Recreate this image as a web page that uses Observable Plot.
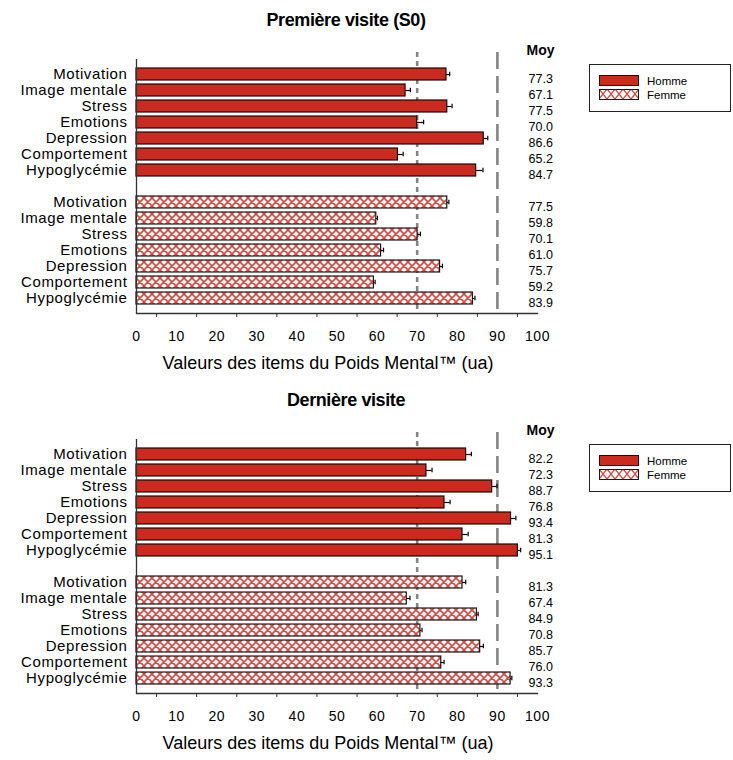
<!DOCTYPE html>
<html>
<head>
<meta charset="utf-8">
<script src="https://cdn.jsdelivr.net/npm/d3@7"></script>
<script src="https://cdn.jsdelivr.net/npm/@observablehq/plot@0.6"></script>
<style>
  body { margin: 0; background: #fff; }
  #wrap { position: relative; width: 733px; height: 760px; overflow: hidden; font-family: "Liberation Sans", Arial, sans-serif; color: #000; }
  .title { position: absolute; left: 0; width: 692px; text-align: center; font-weight: bold; font-size: 18px; letter-spacing: -0.4px; line-height: 21px; }
  .chart { position: absolute; left: 0; }
  .chart g[aria-label="y-axis tick label"] text { letter-spacing: 0.6px; }
  .chart g[aria-label="x-axis tick label"] text { letter-spacing: 0.5px; }
  .chart g[aria-label="means"] text { letter-spacing: 0.9px; }
  .chart g[aria-label="xtitle"] text { letter-spacing: 1.0px; }
  .chart g[aria-label="moy"] text { letter-spacing: -0.7px; }
  .legend { position: absolute; left: 589px; width: 142px; height: 48px; border: 1px solid #222; box-sizing: border-box; background: #fff; }
  .legend .row { position: absolute; left: 9px; height: 11px; display: flex; align-items: center; font-size: 11.5px; }
  .legend svg { margin-right: 8px; }
</style>
</head>
<body>
<div id="wrap"></div>
<script>
// ---- Data ----
const categories = ["Motivation", "Image mentale", "Stress", "Emotions", "Depression", "Comportement", "Hypoglycémie"];
const sexes = ["Homme", "Femme"];

const s0Homme    = [77.3, 67.1, 77.5, 70.0, 86.6, 65.2, 84.7];
const s0HommeErr = [0.8, 1.2, 1.2, 1.6, 1.0, 1.3, 1.7];
const s0Femme    = [77.5, 59.8, 70.1, 61.0, 75.7, 59.2, 83.9];
const s0FemmeErr = [0.4, 0.3, 0.7, 0.6, 0.6, 0.3, 0.5];

const lastHomme    = [82.2, 72.3, 88.7, 76.8, 93.4, 81.3, 95.1];
const lastHommeErr = [1.3, 1.4, 1.2, 1.4, 1.2, 1.4, 0.7];
const lastFemme    = [81.3, 67.4, 84.9, 70.8, 85.7, 76.0, 93.3];
const lastFemmeErr = [0.8, 0.8, 0.3, 0.4, 0.8, 0.7, 0.3];

const xLabelTicks = [0, 10, 20, 30, 40, 50, 60, 70, 80, 90, 100];
const xMarkTicks = [5, 15, 25, 35, 45, 55, 65, 75, 85, 95];
const refShort = [70];
const refLong = [90];
const xTitle = "Valeurs des items du Poids Mental™ (ua)";
const titles = ["Première visite (S0)", "Dernière visite"];

const RED = "#cc2a1e";
const HATCH = "#d9483e";

const keysH = categories.map(c => "H|" + c);
const keysF = categories.map(c => "F|" + c);
const keys = [...keysH, "gap", ...keysF];

function panel(homme, hommeErr, femme, femmeErr, patId) {
  const dataH = categories.map((c, i) => ({key: "H|" + c, mean: homme[i], err: hommeErr[i]}));
  const dataF = categories.map((c, i) => ({key: "F|" + c, mean: femme[i], err: femmeErr[i]}));
  const all = dataH.concat(dataF);
  const defs = () => {
    const d = d3.create("svg:defs");
    const p = d.append("pattern").attr("id", patId).attr("patternUnits", "userSpaceOnUse")
      .attr("width", 8).attr("height", 8);
    p.append("rect").attr("width", 8).attr("height", 8).attr("fill", "#fff");
    p.append("path").attr("d", "M0,0L8,8M8,0L0,8M-1,7L1,9M7,-1L9,1")
      .attr("stroke", HATCH).attr("stroke-width", 1.6).attr("fill", "none");
    return d.node();
  };
  return Plot.plot({
    width: 733,
    height: 350,
    marginTop: 22,
    marginBottom: 67,
    marginLeft: 136,
    marginRight: 196,
    style: {fontFamily: "'Liberation Sans', Arial, sans-serif", color: "#000", background: "transparent"},
    x: {domain: [0, 100]},
    y: {type: "band", domain: keys, paddingInner: 0.24, paddingOuter: 0.12, insetTop: 11.3, insetBottom: 4.3},
    marks: [
      defs,
      Plot.ruleX(refShort, {stroke: "#858585", strokeWidth: 2.6, strokeDasharray: "5,4"}),
      Plot.ruleX(refLong, {stroke: "#858585", strokeWidth: 2.6, strokeDasharray: "17,7"}),
      Plot.barX(dataH, {y: "key", x: "mean", fill: RED, stroke: "#1a0a08", strokeWidth: 1.2}),
      Plot.barX(dataF, {y: "key", x: "mean", fill: `url(#${patId})`, stroke: "#1a1a1a", strokeWidth: 1.2}),
      Plot.ruleY(all, {y: "key", x1: "mean", x2: d => d.mean + d.err, stroke: "#000", strokeWidth: 1.2}),
      Plot.tickX(all, {y: "key", x: d => d.mean + d.err, stroke: "#000", strokeWidth: 1.2, insetTop: 3.7, insetBottom: 3.7}),
      Plot.ruleX([0], {stroke: "#333", strokeWidth: 1.3, insetTop: 7}),
      Plot.frame({anchor: "bottom", stroke: "#333", strokeWidth: 1.3}),
      Plot.axisX({ticks: xMarkTicks, tickSize: 4, tickFormat: () => "", stroke: "#333", label: null}),
      Plot.axisX({ticks: xLabelTicks, tickSize: 0, tickPadding: 18, fontSize: 14, tickFormat: d => String(d), label: null}),
      Plot.axisY({ticks: [...keysH, ...keysF], tickSize: 0, tickPadding: 9, fontSize: 15,
                  tickFormat: d => d.split("|")[1], label: null}),
      Plot.text(all, {y: "key", x: () => 100, text: d => d.mean.toFixed(1), dx: -9, dy: 4,
                      textAnchor: "start", fontSize: 12.5, ariaLabel: "means"}),
      Plot.text(["Moy"], {x: () => 100, frameAnchor: "top", dx: -11, dy: -7, textAnchor: "start",
                          fontSize: 14, fontWeight: "bold", ariaLabel: "moy"}),
      Plot.text([xTitle], {frameAnchor: "bottom", dx: -9, dy: 55, fontSize: 18, ariaLabel: "xtitle"})
    ]
  });
}

const wrap = document.getElementById("wrap");
const panels = [
  {top: 0, chart: panel(s0Homme, s0HommeErr, s0Femme, s0FemmeErr, "hatch1")},
  {top: 380, chart: panel(lastHomme, lastHommeErr, lastFemme, lastFemmeErr, "hatch2")}
];
panels.forEach((p, i) => {
  const t = document.createElement("div");
  t.className = "title";
  t.style.top = (p.top + 10) + "px";
  t.textContent = titles[i];
  wrap.appendChild(t);
  p.chart.classList.add("chart");
  p.chart.style.position = "absolute";
  p.chart.style.top = (p.top + 30) + "px";
  p.chart.style.left = "0px";
  wrap.appendChild(p.chart);
  // legend
  const lg = document.createElement("div");
  lg.className = "legend";
  lg.style.top = (p.top + 64) + "px";
  sexes.forEach((s, j) => {
    const row = document.createElement("div");
    row.className = "row";
    row.style.top = (10 + j * 14) + "px";
    const sw = d3.create("svg").attr("width", 40).attr("height", 11);
    if (j === 0) {
      sw.append("rect").attr("x", 0.5).attr("y", 0.5).attr("width", 39).attr("height", 10)
        .attr("fill", RED).attr("stroke", "#1a0a08");
    } else {
      const pid = "lgpat" + i;
      const pat = sw.append("defs").append("pattern").attr("id", pid).attr("patternUnits", "userSpaceOnUse")
        .attr("width", 8).attr("height", 10);
      pat.append("rect").attr("width", 8).attr("height", 10).attr("fill", "#fff");
      pat.append("path").attr("d", "M0,0L8,10M8,0L0,10").attr("stroke", HATCH).attr("stroke-width", 1.4);
      sw.append("rect").attr("x", 0.5).attr("y", 0.5).attr("width", 39).attr("height", 10)
        .attr("fill", `url(#${pid})`).attr("stroke", "#1a1a1a");
    }
    row.appendChild(sw.node());
    const lab = document.createElement("span");
    lab.textContent = s;
    row.appendChild(lab);
    lg.appendChild(row);
  });
  wrap.appendChild(lg);
});
</script>
</body>
</html>
